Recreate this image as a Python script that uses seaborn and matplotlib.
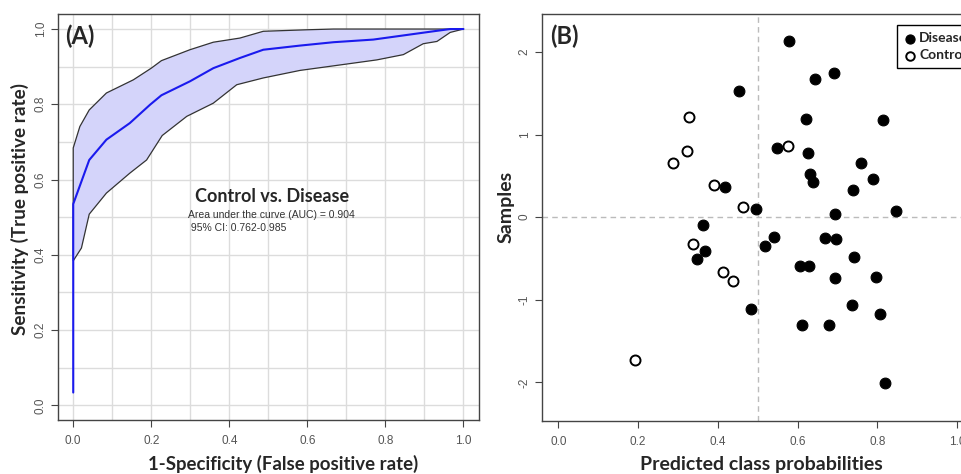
import matplotlib
matplotlib.use("Agg")
import matplotlib.pyplot as plt
import seaborn as sns
import numpy as np
import pandas as pd

# ---------------- data ----------------
# Panel A: ROC curve (mean) and confidence band
roc_fpr = [0.0, 0.0, 0.041, 0.085, 0.145, 0.197, 0.226, 0.299, 0.359, 0.427, 0.487,
           0.581, 0.667, 0.769, 0.846, 0.923, 0.966, 1.0]
roc_tpr = [0.034, 0.535, 0.652, 0.706, 0.750, 0.799, 0.824, 0.861, 0.896, 0.923, 0.945,
           0.956, 0.965, 0.972, 0.983, 0.994, 1.0, 1.0]

upper_fpr = [0.0, 0.017, 0.041, 0.085, 0.154, 0.200, 0.226, 0.299, 0.359, 0.427, 0.487,
             0.598, 0.667, 1.0]
upper_tpr = [0.684, 0.741, 0.785, 0.830, 0.865, 0.896, 0.916, 0.945, 0.965, 0.976, 0.994,
             0.998, 1.0, 1.0]

lower_fpr = [0.0, 0.021, 0.041, 0.085, 0.145, 0.188, 0.228, 0.291, 0.359, 0.419, 0.487,
             0.581, 0.701, 0.778, 0.846, 0.897, 0.932, 0.966, 1.0]
lower_tpr = [0.384, 0.418, 0.508, 0.564, 0.617, 0.652, 0.717, 0.768, 0.803, 0.852, 0.870,
             0.890, 0.907, 0.918, 0.932, 0.961, 0.967, 0.991, 1.0]

roc_title = "Control vs. Disease"
auc_text = "Area under the curve (AUC) = 0.904"
ci_text = " 95% CI: 0.762-0.985"

# Panel B: predicted class probabilities vs samples
disease_prob = [0.579, 0.691, 0.644, 0.454, 0.622, 0.814, 0.549, 0.627, 0.758, 0.789,
                0.630, 0.638, 0.419, 0.740, 0.496, 0.846, 0.694, 0.364, 0.542, 0.669,
                0.696, 0.519, 0.368, 0.347, 0.741, 0.607, 0.628, 0.694, 0.796, 0.736,
                0.483, 0.808, 0.610, 0.680, 0.820]
disease_sample = [2.133, 1.750, 1.673, 1.524, 1.194, 1.173, 0.839, 0.782, 0.653, 0.464,
                  0.524, 0.423, 0.363, 0.323, 0.097, 0.077, 0.036, -0.101, -0.246, -0.254,
                  -0.266, -0.347, -0.415, -0.512, -0.484, -0.597, -0.597, -0.734, -0.730, -1.065,
                  -1.109, -1.177, -1.306, -1.306, -2.004]
control_prob = [0.327, 0.576, 0.322, 0.287, 0.391, 0.463, 0.338, 0.414, 0.437, 0.193]
control_sample = [1.218, 0.859, 0.802, 0.661, 0.387, 0.117, -0.331, -0.665, -0.770, -1.726]

ticks01 = [0.0, 0.2, 0.4, 0.6, 0.8, 1.0]
tick_labels01 = ["0.0", "0.2", "0.4", "0.6", "0.8", "1.0"]
yticks_b = [-2, -1, 0, 1, 2]
ytick_labels_b = ["-2", "-1", "0", "1", "2"]

# ---------------- style ----------------
sns.set_style("white")
plt.rcParams['font.family'] = ['Liberation Sans', 'DejaVu Sans']

BOLD_FONT = ['Lato', 'DejaVu Sans']
TICK_COLOR = '#555555'

fig = plt.figure(figsize=(9.62, 4.74), dpi=100)
axA = fig.add_axes([0.0603, 0.1139, 0.4377, 0.8566])
axB = fig.add_axes([0.5634, 0.1124, 0.4480, 0.8581])


def style_axes(ax):
    for sp in ax.spines.values():
        sp.set_visible(True)
        sp.set_color('#444444')
        sp.set_linewidth(1.0)
    ax.tick_params(axis='both', which='both', direction='out', length=5, width=0.8,
                   color='#444444', labelcolor=TICK_COLOR, labelsize=8.5,
                   bottom=True, left=True)
    ax.tick_params(axis='x', pad=6)
    ax.tick_params(axis='y', pad=3)


# ---------------- Panel A ----------------
axA.set_xlim(-0.039, 1.04)
axA.set_ylim(-0.039, 1.04)
for g in np.arange(0, 1.01, 0.1):
    axA.axvline(g, color='#dcdcdc', lw=1.0, zorder=0)
    axA.axhline(g, color='#dcdcdc', lw=1.0, zorder=0)

poly_x = upper_fpr + lower_fpr[::-1]
poly_y = upper_tpr + lower_tpr[::-1]
axA.fill(poly_x, poly_y, facecolor='#d4d4fa', edgecolor='#333333', lw=0.9, zorder=2)

roc_df = pd.DataFrame({"fpr": roc_fpr, "tpr": roc_tpr})
sns.lineplot(data=roc_df, x="fpr", y="tpr", sort=False, estimator=None,
             color='#1a1aee', lw=1.5, ax=axA, zorder=3)

axA.set_xticks(ticks01)
axA.set_xticklabels(tick_labels01)
axA.set_yticks(ticks01)
axA.set_yticklabels(tick_labels01, rotation=90, va='center')
style_axes(axA)
axA.set_xlabel("1-Specificity (False positive rate)", fontsize=13.4, fontweight='bold',
               family=BOLD_FONT)
axA.set_ylabel("Sensitivity (True positive rate)", fontsize=13.6, fontweight='bold',
               family=BOLD_FONT)
axA.xaxis.set_label_coords(0.534, -0.087)
axA.yaxis.set_label_coords(-0.068, 0.52)
axA.text(0.018, 0.975, "(A)", transform=axA.transAxes, fontsize=17, fontweight='bold',
         family=BOLD_FONT, va='top', ha='left')
axA.text(0.509, 0.554, roc_title, fontsize=13, fontweight='bold', family=BOLD_FONT,
         ha='center', va='center', zorder=5)
axA.text(0.294, 0.506, auc_text, fontsize=7.5, color='#333333', ha='left', va='center', zorder=5)
axA.text(0.294, 0.471, ci_text, fontsize=7.5, color='#333333', ha='left', va='center', zorder=5)

# ---------------- Panel B ----------------
axB.set_xlim(-0.041, 1.04)
axB.set_ylim(-2.465, 2.46)
axB.axvline(0.5, color='#bbbbbb', lw=1.0, ls=(0, (4, 3)), zorder=0)
axB.axhline(0.0, color='#bbbbbb', lw=1.0, ls=(0, (4, 3)), zorder=0)

sns.scatterplot(x=disease_prob, y=disease_sample, color='black', s=60,
                edgecolor='black', linewidth=0.8, ax=axB, label="Disease", zorder=3)
sns.scatterplot(x=control_prob, y=control_sample, facecolor='white', s=52,
                edgecolor='black', linewidth=1.4, ax=axB, label="Control", zorder=3)

axB.set_xticks(ticks01)
axB.set_xticklabels(tick_labels01)
axB.set_yticks(yticks_b)
axB.set_yticklabels(ytick_labels_b, rotation=90, va='center')
style_axes(axB)
axB.set_xlabel("Predicted class probabilities", fontsize=14, fontweight='bold',
               family=BOLD_FONT)
axB.set_ylabel("Samples", fontsize=14, fontweight='bold', family=BOLD_FONT)
axB.xaxis.set_label_coords(0.510, -0.087)
axB.yaxis.set_label_coords(-0.064, 0.525)
axB.text(0.018, 0.975, "(B)", transform=axB.transAxes, fontsize=17, fontweight='bold',
         family=BOLD_FONT, va='top', ha='left')

leg = axB.legend(loc='upper left', bbox_to_anchor=(0.824, 0.972), borderaxespad=0,
                 frameon=True, fancybox=False, edgecolor='black', framealpha=1,
                 borderpad=0.5, handletextpad=0.2, handlelength=0.9, labelspacing=0.35,
                 markerscale=0.85,
                 prop={'family': BOLD_FONT, 'weight': 'bold', 'size': 10})
leg.get_frame().set_linewidth(1.0)

fig.savefig("out.png", dpi=100)
